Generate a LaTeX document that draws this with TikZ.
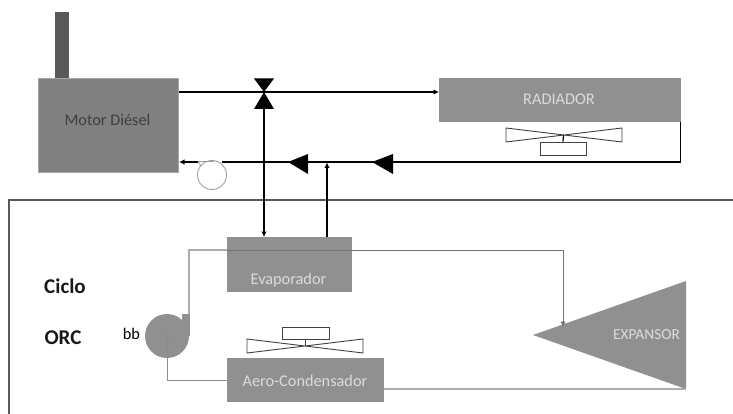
\documentclass[tikz,border=0pt]{standalone}
\usepackage{fontspec}
\setmainfont{Carlito}
\usepackage{tikz}
\usetikzlibrary{arrows.meta}

\begin{document}
\begin{tikzpicture}[
    x=1pt, y=-1pt,
    every node/.style={font=\fontsize{16.3}{18}\selectfont},
    unit/.style={rectangle, fill=gray!87!white, inner sep=0pt},
    engine/.style={rectangle, fill=black!50, draw=black!35, line width=0.5pt, inner sep=0pt},
    hotline/.style={draw=black, line width=1.8pt},
    orcline/.style={draw=black!32, line width=1.1pt},
    orcdark/.style={draw=black!55, line width=1pt},
    tipm/.style={-{Latex[length=5.5pt, width=5.5pt]}},
    flowmark/.style={fill=black},
    fanline/.style={draw=black!75, line width=0.9pt, fill=white},
    lighttxt/.style={text=white!86!black},
    lbl/.style={font=\fontsize{21}{24}\selectfont\bfseries, text=black!90}
]
\useasboundingbox (0,0) rectangle (733,414);

% casing of the cycle
\draw[draw=black!65, line width=1.2pt] (733,200) -- (9,200) -- (9,414);

% engine side
\node[rectangle, fill=black!65, minimum width=14pt, minimum height=66pt, inner sep=0pt] (stack) at (62,45) {};
\node[engine, minimum width=140pt, minimum height=94pt] (motor) at (108.5,125) {};
\node[text=black!75] (motortxt) at (107.5,119.5) {Motor Diésel};
\node[unit, minimum width=242pt, minimum height=44pt] (radiador) at (560,100) {};
\node[lighttxt] (radiadortxt) at (559,99.5) {RADIADOR};
\node[unit, minimum width=125pt, minimum height=55pt] (evaporador) at (289.5,264.5) {};
\node[lighttxt] (evaporadortxt) at (288.5,280) {Evaporador};
\node[unit, minimum width=157pt, minimum height=44pt] (condensador) at (305.5,380) {};
\node[lighttxt] (condensadortxt) at (305,380.5) {Aero-Condensador};

% expander
\fill[gray!87!white] (533,335) -- (686,281) -- (686,389) -- cycle;
\node[lighttxt, font=\fontsize{15.4}{18}\selectfont] (expansor) at (646.5,335) {EXPANSOR};

% feed pump
\node[circle, fill=gray!87!white, minimum size=44pt, inner sep=0pt] (bomba) at (167,336) {};
\fill[gray!87!white] (182,314) rectangle (190,336);
\node (bombatxt) at (131.5,334) {bb};

% points where the lines meet the blocks
\coordinate (motorout) at (179,92);
\coordinate (motorin) at (179,162);
\coordinate (radin) at (439,92);
\coordinate (radout) at (680.5,122);
\coordinate (radturn) at (680.5,162);
\coordinate (valve) at (264,92);
\coordinate (valvelow) at (264,108);
\coordinate (evapin) at (264,237);
\coordinate (evapout) at (327,237);
\coordinate (tee) at (327,162.5);
\coordinate (evapleft) at (189,250);
\coordinate (evaptop) at (227,250);
\coordinate (evapright) at (352,250);
\coordinate (expturn) at (563,250);
\coordinate (expin) at (563,327);
\coordinate (expout) at (686,389);
\coordinate (condleft) at (227,380);
\coordinate (condright) at (384,389);
\coordinate (pumpturn) at (167,380);
\coordinate (pumpin) at (167,333);
\coordinate (pumpout) at (189,314);

% water circuit
\draw[hotline, tipm] (motorout) -- (radin);
\draw[hotline, tipm] (radout) -- (radturn) -- (motorin);
\draw[hotline, tipm] (valvelow) -- (evapin);
\draw[hotline, tipm] (evapout) -- (tee);

% valve and flow marks
\fill[flowmark] (254,78.5) -- (274,78.5) -- (valve) -- cycle;
\fill[flowmark] (254,109) -- (274,109) -- (valve) -- cycle;
\fill[flowmark] (288,162) -- (308,154) -- (308,174) -- cycle;
\fill[flowmark] (372,162) -- (393,154) -- (393,174) -- cycle;

% water pump
\fill[white] (198,160) rectangle (222,164);
\node[circle, draw=black!40, fill=white, line width=0.8pt, minimum size=29pt, inner sep=0pt] (waterpump) at (212,175) {};
\draw[draw=black!40, line width=0.8pt] (198,161.5) -- (214,161.5) (198,161.5) -- (201,166);

% ORC circuit
\draw[orcline] (pumpout) -- (evapleft) -- (evaptop);
\draw[orcdark] (evaptop) -- (evapright);
\draw[orcdark, tipm] (evapright) -- (expturn) -- (expin);
\draw[orcline] (condright) -- (expout);
\draw[orcdark, draw=black!45, tipm] (condleft) -- (pumpturn) -- (pumpin);

% fans
\draw[fanline] (506,128) -- (622,142) -- (622,128) -- (506,142) -- cycle;
\node[rectangle, fanline, minimum width=46pt, minimum height=13pt, inner sep=0pt] (radfan) at (563,148.5) {};
\coordinate (radhub) at (563.5,135);
\draw[draw=black, line width=1.2pt] (radhub) -- (radfan.north);
\draw[fanline] (247,339) -- (363,353) -- (363,339) -- (247,353) -- cycle;
\node[rectangle, fanline, minimum width=47pt, minimum height=12pt, inner sep=0pt] (condfan) at (305.5,333) {};
\coordinate (condhub) at (305.5,346);
\draw[draw=black!75, line width=0.9pt] (condfan.south) -- (condhub);

% labels
\node[lbl] (ciclo) at (65,286) {Ciclo};
\node[lbl] (orc) at (63,338) {ORC};
\end{tikzpicture}
\end{document}
